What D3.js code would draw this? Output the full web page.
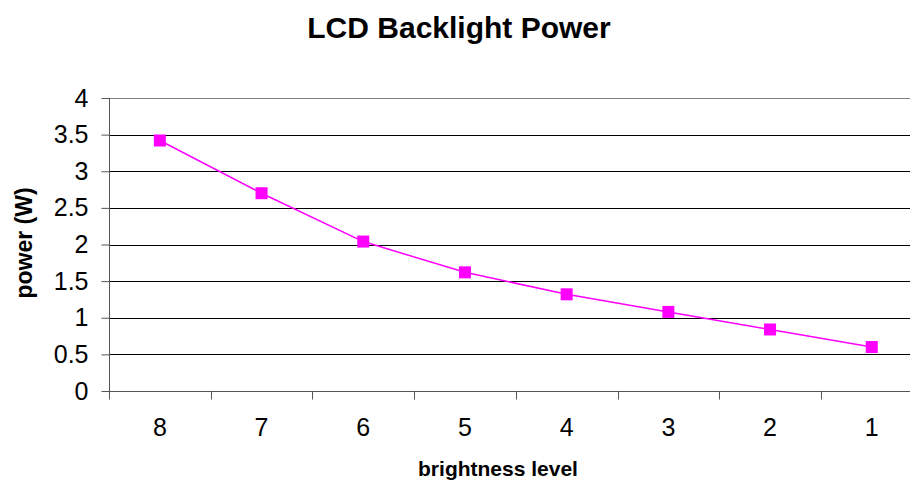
<!DOCTYPE html>
<html>
<head>
<meta charset="utf-8">
<script src="https://cdn.jsdelivr.net/npm/d3@7"></script>
<style>
  html, body { margin: 0; padding: 0; background: #fff; }
  svg { display: block; font-family: "Liberation Sans", Arial, sans-serif; }
</style>
</head>
<body>
<svg id="chart" width="910" height="485"></svg>
<script>
const categories = ["8", "7", "6", "5", "4", "3", "2", "1"];
const powerValues = [3.42, 2.70, 2.04, 1.62, 1.32, 1.08, 0.84, 0.60];
const yTickValues = [0, 0.5, 1, 1.5, 2, 2.5, 3, 3.5, 4];
const chartTitle = "LCD Backlight Power";
const xTitle = "brightness level";
const yTitle = "power (W)";

const svg = d3.select("#chart");
const plotLeft = 109, plotRight = 922.6, plotTop = 98, plotBottom = 391;

const x = d3.scaleBand().domain(categories).range([plotLeft, plotRight]).padding(0);
const y = d3.scaleLinear().domain([0, 4]).range([plotBottom, plotTop]);

// gridlines
svg.append("g").selectAll("line")
  .data(yTickValues.filter(v => v > 0 && v < 4))
  .join("line")
  .attr("x1", plotLeft).attr("x2", plotRight)
  .attr("y1", d => Math.round(y(d)) + 0.5).attr("y2", d => Math.round(y(d)) + 0.5)
  .attr("stroke", "#000").attr("stroke-width", 1);

// plot border top
svg.append("line")
  .attr("x1", plotLeft).attr("x2", plotRight)
  .attr("y1", Math.round(y(4)) + 0.5).attr("y2", Math.round(y(4)) + 0.5)
  .attr("stroke", "#808080").attr("stroke-width", 1);

// y axis
const yAxis = svg.append("g")
  .attr("transform", `translate(${plotLeft + 0.5},0)`)
  .call(d3.axisLeft(y).tickValues(yTickValues).tickFormat(d3.format("")).tickSize(8).tickPadding(13));
yAxis.select(".domain").attr("stroke", "#555").attr("d", `M0,${plotTop}V${plotBottom}`);
yAxis.selectAll(".tick line").attr("stroke", "#555");
yAxis.selectAll(".tick text").attr("font-size", 25).attr("fill", "#000")
  .attr("font-family", "'Liberation Sans', Arial, sans-serif");

// x axis
const xAxis = svg.append("g")
  .attr("transform", `translate(0,${Math.round(plotBottom) + 0.5})`)
  .call(d3.axisBottom(x).tickSize(0).tickPadding(27));
xAxis.select(".domain").attr("stroke", "#555").attr("d", `M${plotLeft},0H${plotRight}`);
xAxis.selectAll(".tick text").attr("font-size", 25).attr("fill", "#000")
  .attr("font-family", "'Liberation Sans', Arial, sans-serif");
// boundary tick marks
xAxis.append("g").selectAll("line")
  .data(categories)
  .join("line")
  .attr("x1", d => Math.round(x(d)) + 0.5).attr("x2", d => Math.round(x(d)) + 0.5)
  .attr("y1", 0).attr("y2", 8)
  .attr("stroke", "#555");

// line
const line = d3.line()
  .x((d, i) => x(categories[i]) + x.bandwidth() / 2)
  .y(d => y(d));
svg.append("path")
  .datum(powerValues)
  .attr("d", line)
  .attr("fill", "none")
  .attr("stroke", "#FF00FF")
  .attr("stroke-width", 1.5);

// markers
const ms = 12;
svg.append("g").selectAll("rect")
  .data(powerValues)
  .join("rect")
  .attr("x", (d, i) => x(categories[i]) + x.bandwidth() / 2 - ms / 2)
  .attr("y", d => y(d) - ms / 2)
  .attr("width", ms).attr("height", ms)
  .attr("fill", "#FF00FF");

// titles
svg.append("text")
  .attr("x", 459).attr("y", 38)
  .attr("text-anchor", "middle")
  .attr("font-size", 30).attr("font-weight", "bold")
  .text(chartTitle);

svg.append("text")
  .attr("x", 498).attr("y", 476)
  .attr("text-anchor", "middle")
  .attr("font-size", 21).attr("font-weight", "bold")
  .text(xTitle);

svg.append("text")
  .attr("transform", "translate(32,243) rotate(-90)")
  .attr("text-anchor", "middle")
  .attr("font-size", 23).attr("font-weight", "bold")
  .text(yTitle);
</script>
</body>
</html>
